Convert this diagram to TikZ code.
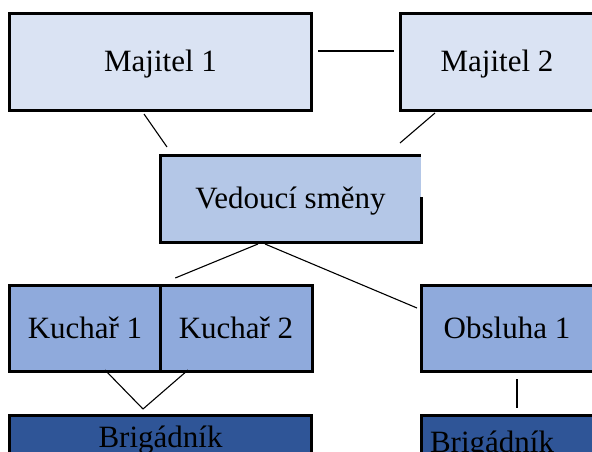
\documentclass[tikz,border=0pt]{standalone}
\usepackage{fontspec}
\setmainfont{Liberation Serif}

\definecolor{ownerfill}{HTML}{DAE3F3}
\definecolor{leadfill}{HTML}{B4C7E7}
\definecolor{staffpale}{HTML}{8FAADC}
\definecolor{helperfill}{HTML}{2F5597}

\begin{document}
\begin{tikzpicture}[x=1pt, y=-1pt,
    box/.style={line width=3pt, inner sep=0pt, outer sep=0pt, text height=20pt, text depth=0pt,
                font=\fontsize{31}{37}\selectfont},
    link/.style={line width=1.1pt}]
    \clip (0,0) rectangle (592,452);

    % Define the positions of the boxes
    \coordinate (own1Pos) at (160.5, 62);
    \coordinate (own2Pos) at (497, 62);
    \coordinate (leadPos) at (290.5, 198.5);
    \coordinate (cook1Pos) at (85, 328);
    \coordinate (cook2Pos) at (236, 328);
    \coordinate (servPos) at (507, 328);
    \coordinate (help1Pos) at (160.5, 415);
    \coordinate (help2Pos) at (421, 415);

    % Draw the boxes
    \node[box, draw, fill=ownerfill, minimum width=302pt, minimum height=96pt] (own1) at (own1Pos) {Majitel 1};
    \node[box, draw, fill=ownerfill, minimum width=194pt, minimum height=96pt] (own2) at (own2Pos) {Majitel 2};
    \node[box, fill=leadfill, minimum width=261pt, minimum height=87pt] (lead) at (leadPos) {Vedoucí směny};
    \draw[line width=3pt] ([yshift=-42pt]lead.north east) -- (lead.south east) -- (lead.south west)
        -- (lead.north west) -- (lead.north east); % right side only partly drawn
    \node[box, draw, fill=staffpale, minimum width=150.5pt, minimum height=86pt] (cook1) at (cook1Pos) {Kuchař 1};
    \node[box, draw, fill=staffpale, minimum width=152pt, minimum height=86pt] (cook2) at (cook2Pos) {Kuchař 2};
    \node[box, draw, fill=staffpale, minimum width=172pt, minimum height=86pt] (serv) at (servPos) {Obsluha 1};
    \node[box, draw, fill=helperfill, anchor=north, minimum width=302.5pt, inner ysep=12pt] (help1) at (help1Pos) {Brigádník};
    \node[box, draw, fill=helperfill, anchor=north west, text width=174pt, align=left,
          inner xsep=9pt, inner ysep=17pt] (help2) at (help2Pos) {Brigádník};

    % Draw the lines
    \draw[link] ([xshift=6.5pt,yshift=11pt]own1.east) -- ([xshift=-6pt,yshift=11pt]own2.west);
    \draw[link] ([xshift=-16.5pt,yshift=-4pt]own1.south) -- ([xshift=-123.5pt,yshift=8pt]lead.north);
    \draw[link] ([xshift=-62pt,yshift=-3pt]own2.south) -- ([xshift=109.5pt,yshift=12pt]lead.north);
    \draw[link] ([xshift=-32.5pt,yshift=-2pt]lead.south) -- ([xshift=15pt,yshift=7pt]cook1.north east);
    \draw[link] ([xshift=-25.5pt,yshift=-2pt]lead.south) -- ([xshift=-4pt,yshift=20pt]serv.west);
    \draw[link] ([xshift=20pt,yshift=1pt]cook1.south) -- ([xshift=-17.5pt,yshift=6pt]help1.north);
    \draw[link] ([xshift=-48pt,yshift=1pt]cook2.south) -- ([xshift=-17.5pt,yshift=6pt]help1.north);
    \draw[link] ([xshift=10pt,yshift=-8pt]serv.south) -- ([yshift=7pt]help2.north);
\end{tikzpicture}
\end{document}
